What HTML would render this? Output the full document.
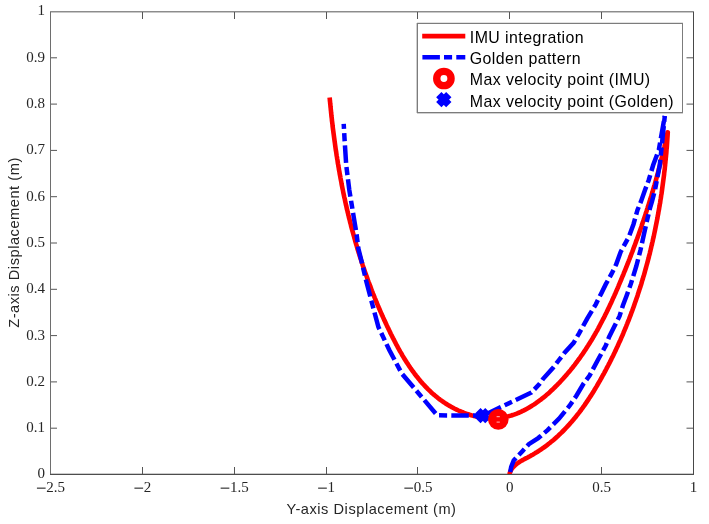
<!DOCTYPE html>
<html><head><meta charset="utf-8"><style>html,body{margin:0;padding:0;background:#fff;width:709px;height:524px;overflow:hidden}svg{display:block;will-change:transform}</style></head>
<body><svg width="709" height="524" viewBox="0 0 709 524"><rect width="709" height="524" fill="#fff"/><rect x="51" y="473" width="642" height="1" fill="#cccccc"/><rect x="51" y="12" width="642" height="1" fill="#c8c8c8"/><path d="M142.5 474V467M142.5 11V19M234.5 474V467M234.5 11V19M326.5 474V467M326.5 11V19M417.5 474V467M417.5 11V19M509.5 474V467M509.5 11V19M601.5 474V467M601.5 11V19M50 428.2H57M693 428.2H686.5M50 381.9H57M693 381.9H686.5M50 335.6H57M693 335.6H686.5M50 289.3H57M693 289.3H686.5M50 243.0H57M693 243.0H686.5M50 196.7H57M693 196.7H686.5M50 150.4H57M693 150.4H686.5M50 104.1H57M693 104.1H686.5M50 57.8H57M693 57.8H686.5" stroke="#555" stroke-width="1" fill="none"/><polyline points="509.4,474.4 509.8,472.9 510.3,471.6 511.0,470.2 511.7,469.0 512.5,467.9 513.5,466.8 514.5,465.8 515.5,464.8 516.7,463.9 517.9,463.0 519.1,462.2 520.4,461.4 521.7,460.6 523.1,459.9 524.4,459.1 525.8,458.4 527.2,457.7 528.6,456.9 530.0,456.2 531.3,455.4 532.7,454.7 534.0,453.9 535.3,453.1 536.7,452.3 538.0,451.5 539.2,450.6 540.5,449.8 541.8,448.9 543.0,448.0 544.3,447.2 545.5,446.3 546.7,445.4 547.9,444.4 549.1,443.5 550.3,442.6 551.5,441.6 552.6,440.7 553.8,439.7 554.9,438.7 556.0,437.7 557.1,436.7 558.3,435.7 559.3,434.7 560.4,433.6 561.5,432.6 562.6,431.5 563.6,430.5 564.7,429.4 565.7,428.3 566.7,427.2 567.7,426.1 568.8,425.0 569.8,423.9 570.7,422.8 571.7,421.7 572.7,420.5 573.7,419.4 574.6,418.2 575.6,417.1 576.5,415.9 577.4,414.7 578.3,413.6 579.3,412.4 580.2,411.2 581.1,410.0 581.9,408.8 582.8,407.6 583.7,406.3 584.6,405.1 585.4,403.9 586.3,402.6 587.1,401.4 588.0,400.1 588.8,398.9 589.6,397.6 590.4,396.4 591.3,395.1 592.1,393.8 592.9,392.6 593.7,391.3 594.4,390.0 595.2,388.7 596.0,387.4 596.8,386.1 597.5,384.8 598.3,383.5 599.0,382.2 599.8,380.9 600.5,379.6 601.3,378.3 602.0,376.9 602.7,375.6 603.5,374.3 604.2,373.0 604.9,371.6 605.6,370.3 606.3,369.0 607.0,367.6 607.7,366.3 608.4,365.0 609.1,363.6 609.8,362.3 610.5,360.9 611.2,359.6 611.8,358.2 612.5,356.9 613.2,355.5 613.8,354.2 614.5,352.8 615.1,351.5 615.8,350.1 616.4,348.7 617.0,347.4 617.7,346.0 618.3,344.6 618.9,343.2 619.5,341.9 620.2,340.5 620.8,339.1 621.4,337.7 622.0,336.3 622.6,335.0 623.2,333.6 623.7,332.2 624.3,330.8 624.9,329.4 625.5,328.0 626.1,326.6 626.6,325.2 627.2,323.8 627.7,322.4 628.3,321.0 628.9,319.6 629.4,318.2 629.9,316.8 630.5,315.4 631.0,314.0 631.5,312.5 632.1,311.1 632.6,309.7 633.1,308.3 633.6,306.9 634.1,305.4 634.6,304.0 635.1,302.6 635.6,301.2 636.1,299.7 636.6,298.3 637.1,296.9 637.6,295.4 638.0,294.0 638.5,292.6 639.0,291.1 639.4,289.7 639.9,288.3 640.4,286.8 640.8,285.4 641.3,283.9 641.7,282.5 642.1,281.0 642.6,279.6 643.0,278.1 643.4,276.7 643.9,275.2 644.3,273.8 644.7,272.3 645.1,270.9 645.5,269.4 645.9,268.0 646.3,266.5 646.7,265.0 647.1,263.6 647.5,262.1 647.9,260.6 648.3,259.2 648.7,257.7 649.0,256.2 649.4,254.8 649.8,253.3 650.1,251.8 650.5,250.4 650.8,248.9 651.2,247.4 651.5,245.9 651.9,244.5 652.2,243.0 652.6,241.5 652.9,240.0 653.2,238.6 653.6,237.1 653.9,235.6 654.2,234.1 654.5,232.6 654.8,231.2 655.1,229.7 655.4,228.2 655.7,226.7 656.0,225.2 656.3,223.7 656.6,222.2 656.9,220.8 657.2,219.3 657.5,217.8 657.7,216.3 658.0,214.8 658.3,213.3 658.5,211.8 658.8,210.3 659.1,208.8 659.3,207.3 659.6,205.8 659.8,204.3 660.1,202.9 660.3,201.4 660.5,199.9 660.8,198.4 661.0,196.9 661.2,195.4 661.5,193.9 661.7,192.4 661.9,190.9 662.1,189.4 662.3,187.9 662.5,186.4 662.7,184.9 662.9,183.4 663.1,181.9 663.3,180.4 663.5,178.9 663.7,177.4 663.9,175.9 664.1,174.4 664.2,172.9 664.4,171.4 664.6,169.9 664.8,168.4 664.9,166.9 665.1,165.4 665.2,163.9 665.4,162.4 665.5,160.9 665.7,159.4 665.8,157.9 666.0,156.4 666.1,154.9 666.3,153.4 666.4,151.9 666.5,150.4 666.6,148.9 666.8,147.4 666.9,145.9 667.0,144.4 667.1,142.9 667.2,141.4 667.3,139.9 667.4,138.4 667.5,136.9 667.6,135.4 667.7,133.9 667.8,132.4 667.6,132.3 667.3,133.8 667.0,135.2 666.7,136.7 666.4,138.2 666.0,139.6 665.7,141.1 665.4,142.6 665.1,144.1 664.7,145.5 664.4,147.0 664.0,148.5 663.7,149.9 663.3,151.4 663.0,152.9 662.6,154.3 662.3,155.8 661.9,157.2 661.6,158.7 661.2,160.2 660.8,161.6 660.5,163.1 660.1,164.5 659.7,166.0 659.3,167.5 658.9,168.9 658.6,170.4 658.2,171.8 657.8,173.3 657.4,174.7 657.0,176.2 656.6,177.6 656.2,179.1 655.8,180.5 655.4,182.0 655.0,183.4 654.6,184.9 654.1,186.3 653.7,187.8 653.3,189.2 652.9,190.6 652.5,192.1 652.0,193.5 651.6,195.0 651.2,196.4 650.7,197.8 650.3,199.3 649.8,200.7 649.4,202.1 649.0,203.6 648.5,205.0 648.0,206.4 647.6,207.9 647.1,209.3 646.7,210.7 646.2,212.2 645.8,213.6 645.3,215.0 644.8,216.4 644.3,217.9 643.9,219.3 643.4,220.7 642.9,222.1 642.4,223.6 641.9,225.0 641.5,226.4 641.0,227.8 640.5,229.2 640.0,230.7 639.5,232.1 639.0,233.5 638.5,234.9 638.0,236.3 637.5,237.7 637.0,239.1 636.4,240.5 635.9,242.0 635.4,243.4 634.9,244.8 634.4,246.2 633.8,247.6 633.3,249.0 632.8,250.4 632.3,251.8 631.7,253.2 631.2,254.6 630.7,256.0 630.1,257.4 629.6,258.8 629.0,260.2 628.5,261.6 627.9,263.0 627.4,264.4 626.8,265.8 626.3,267.2 625.7,268.6 625.2,270.0 624.6,271.3 624.0,272.7 623.5,274.1 622.9,275.5 622.3,276.9 621.7,278.3 621.2,279.7 620.6,281.0 620.0,282.4 619.4,283.8 618.8,285.2 618.3,286.6 617.7,288.0 617.1,289.3 616.5,290.7 615.9,292.1 615.3,293.5 614.7,294.8 614.1,296.2 613.4,297.6 612.8,298.9 612.2,300.3 611.6,301.7 611.0,303.0 610.3,304.4 609.7,305.7 609.1,307.1 608.4,308.4 607.8,309.8 607.1,311.1 606.5,312.5 605.8,313.8 605.1,315.2 604.5,316.5 603.8,317.9 603.1,319.2 602.4,320.5 601.7,321.8 601.0,323.2 600.3,324.5 599.6,325.8 598.9,327.1 598.2,328.5 597.5,329.8 596.8,331.1 596.0,332.4 595.3,333.7 594.5,335.0 593.8,336.3 593.0,337.6 592.3,338.9 591.5,340.2 590.7,341.4 589.9,342.7 589.1,344.0 588.3,345.3 587.5,346.5 586.7,347.8 585.9,349.1 585.0,350.3 584.2,351.6 583.4,352.8 582.5,354.1 581.6,355.3 580.8,356.5 579.9,357.8 579.0,359.0 578.1,360.2 577.2,361.5 576.3,362.7 575.4,363.9 574.5,365.1 573.5,366.3 572.6,367.5 571.6,368.7 570.7,369.9 569.7,371.1 568.7,372.2 567.7,373.4 566.7,374.6 565.7,375.7 564.7,376.9 563.7,378.0 562.6,379.2 561.6,380.3 560.5,381.5 559.5,382.6 558.4,383.7 557.3,384.8 556.2,385.9 555.1,387.0 554.0,388.1 552.9,389.2 551.7,390.3 550.6,391.3 549.5,392.4 548.3,393.4 547.1,394.4 546.0,395.4 544.8,396.4 543.6,397.4 542.4,398.3 541.2,399.3 540.0,400.2 538.7,401.1 537.5,402.0 536.3,402.9 535.0,403.8 533.8,404.6 532.5,405.4 531.2,406.2 529.9,407.0 528.7,407.8 527.4,408.5 526.1,409.2 524.8,409.9 523.4,410.6 522.1,411.2 520.8,411.9 519.5,412.5 518.1,413.0 516.8,413.6 515.4,414.1 514.0,414.6 512.7,415.0 511.3,415.5 509.9,415.9 508.5,416.3 507.1,416.6 505.7,416.9 504.3,417.2 502.9,417.5 501.5,417.7 500.1,417.9 498.7,418.1 497.2,418.2 495.8,418.3 494.3,418.4 492.9,418.4 491.4,418.4 490.0,418.3 488.5,418.3 487.1,418.2 485.6,418.0 484.2,417.9 482.7,417.7 481.2,417.5 479.8,417.2 478.3,417.0 476.9,416.7 475.4,416.3 474.0,416.0 472.5,415.6 471.1,415.2 469.7,414.8 468.2,414.3 466.8,413.8 465.4,413.3 464.0,412.8 462.6,412.2 461.2,411.7 459.8,411.1 458.4,410.5 457.0,409.8 455.7,409.2 454.3,408.5 453.0,407.8 451.6,407.1 450.3,406.3 449.0,405.6 447.7,404.8 446.5,404.0 445.2,403.2 443.9,402.3 442.7,401.5 441.5,400.6 440.3,399.8 439.1,398.9 437.9,397.9 436.8,397.0 435.6,396.1 434.5,395.1 433.4,394.2 432.2,393.2 431.1,392.2 430.1,391.2 429.0,390.1 427.9,389.1 426.9,388.0 425.8,387.0 424.8,385.9 423.8,384.8 422.8,383.7 421.8,382.6 420.8,381.5 419.9,380.3 418.9,379.2 418.0,378.0 417.0,376.8 416.1,375.7 415.2,374.5 414.3,373.3 413.4,372.0 412.5,370.8 411.6,369.6 410.7,368.4 409.9,367.1 409.0,365.9 408.2,364.6 407.4,363.3 406.5,362.1 405.7,360.8 404.9,359.5 404.1,358.2 403.3,356.9 402.5,355.6 401.8,354.2 401.0,352.9 400.2,351.6 399.5,350.3 398.7,348.9 398.0,347.6 397.3,346.2 396.5,344.9 395.8,343.5 395.1,342.2 394.4,340.8 393.7,339.4 393.0,338.1 392.3,336.7 391.6,335.3 390.9,334.0 390.2,332.6 389.6,331.2 388.9,329.8 388.2,328.4 387.6,327.1 386.9,325.7 386.3,324.3 385.6,322.9 385.0,321.5 384.3,320.1 383.7,318.7 383.1,317.4 382.5,316.0 381.8,314.6 381.2,313.2 380.6,311.8 380.0,310.4 379.4,309.0 378.8,307.6 378.2,306.2 377.6,304.8 377.0,303.4 376.4,302.0 375.9,300.6 375.3,299.2 374.7,297.8 374.2,296.4 373.6,295.0 373.0,293.6 372.5,292.2 371.9,290.8 371.4,289.4 370.9,287.9 370.3,286.5 369.8,285.1 369.3,283.7 368.7,282.3 368.2,280.9 367.7,279.5 367.2,278.0 366.7,276.6 366.2,275.2 365.7,273.8 365.2,272.4 364.7,270.9 364.2,269.5 363.7,268.1 363.2,266.7 362.7,265.2 362.3,263.8 361.8,262.4 361.3,261.0 360.9,259.5 360.4,258.1 360.0,256.7 359.5,255.2 359.1,253.8 358.6,252.4 358.2,250.9 357.7,249.5 357.3,248.1 356.9,246.6 356.5,245.2 356.0,243.7 355.6,242.3 355.2,240.9 354.8,239.4 354.4,238.0 354.0,236.5 353.6,235.1 353.2,233.7 352.8,232.2 352.4,230.8 352.0,229.3 351.6,227.9 351.2,226.4 350.9,225.0 350.5,223.5 350.1,222.1 349.8,220.6 349.4,219.2 349.0,217.7 348.7,216.2 348.3,214.8 348.0,213.3 347.6,211.9 347.3,210.4 346.9,209.0 346.6,207.5 346.3,206.0 345.9,204.6 345.6,203.1 345.3,201.7 345.0,200.2 344.7,198.7 344.3,197.3 344.0,195.8 343.7,194.3 343.4,192.9 343.1,191.4 342.8,189.9 342.5,188.5 342.2,187.0 341.9,185.5 341.6,184.0 341.4,182.6 341.1,181.1 340.8,179.6 340.5,178.1 340.3,176.7 340.0,175.2 339.7,173.7 339.5,172.2 339.2,170.8 338.9,169.3 338.7,167.8 338.4,166.3 338.2,164.8 337.9,163.4 337.7,161.9 337.5,160.4 337.2,158.9 337.0,157.4 336.7,155.9 336.5,154.5 336.3,153.0 336.1,151.5 335.8,150.0 335.6,148.5 335.4,147.0 335.2,145.5 335.0,144.0 334.8,142.5 334.6,141.1 334.4,139.6 334.2,138.1 334.0,136.6 333.8,135.1 333.6,133.6 333.4,132.1 333.2,130.6 333.0,129.1 332.8,127.6 332.6,126.1 332.5,124.6 332.3,123.1 332.1,121.6 331.9,120.1 331.8,118.6 331.6,117.1 331.4,115.6 331.3,114.1 331.1,112.6 331.0,111.1 330.8,109.6 330.7,108.1 330.5,106.6 330.4,105.1 330.2,103.6 330.1,102.1 329.9,100.6 329.8,99.1 329.6,97.5" fill="none" stroke="#ff0000" stroke-width="4.6" stroke-linejoin="round"/><polyline points="510.2,472.0 511.2,466.8 513.7,460.5 516.5,457.5 522.4,451.2 528.8,444.2 538.2,438.1 541.0,435.8 547.6,430.1 559.1,418.6 569.6,405.7 576.1,396.2 583.6,383.6 589.6,375.6 597.2,361.2 605.8,345.5 609.1,337.0 614.3,326.5 619.6,316.0 622.9,305.5 626.5,296.0 631.0,283.4 636.3,266.2 640.5,250.0 644.0,234.0 647.5,218.5 650.3,207.0 652.0,201.4 655.0,190.0 659.8,165.0 664.8,116.0" fill="none" stroke="#0000ff" stroke-width="4.5" stroke-dasharray="17.5 4.2 8.1 4.2" stroke-dashoffset="2.1" stroke-linejoin="miter"/><polyline points="664.8,116.0 658.8,150.0 653.2,165.0 648.6,180.5 645.0,190.0 641.0,201.4 637.5,210.0 633.5,224.2 629.0,236.5 620.7,251.8 616.2,264.3 611.5,273.9 605.7,284.4 601.0,293.9 595.8,304.3 587.2,318.6 579.1,333.4 573.6,342.9 564.8,352.4 558.6,360.5 552.4,368.6 542.9,379.1 539.6,383.8 531.5,392.5 483.0,415.7 437.2,415.3 401.8,373.5 389.3,350.0 378.4,327.0 372.5,305.0 366.2,281.0 361.8,262.2 358.3,248.4 356.7,235.0 353.4,215.0 349.3,190.0 346.2,165.0 344.6,140.0 343.7,123.9" fill="none" stroke="#0000ff" stroke-width="4.5" stroke-dasharray="17.5 4.2 8.1 4.2" stroke-dashoffset="28.7" stroke-linejoin="miter"/><path d="M477.9 410.7L487.9 420.7M487.9 410.7L477.9 420.7" stroke="#0000ff" stroke-width="7.5" fill="none"/><circle cx="498.3" cy="419.4" r="10.3" fill="#ff0000"/><path d="M496.6 416.7h3.2M496.6 422.1h3.2" stroke="#fff" stroke-width="0.9" opacity="0.8"/><rect x="50" y="11" width="1" height="464" fill="#6e6e6e"/><rect x="693" y="11" width="1" height="464" fill="#484848"/><rect x="50" y="11" width="644" height="1" fill="#8c8c8c"/><rect x="50" y="474" width="644" height="1" fill="#4d4d4d"/><rect x="416" y="22" width="268" height="92" fill="#fff"/><rect x="416" y="23" width="1" height="90" fill="#cfcfcf"/><rect x="417" y="22" width="266" height="1" fill="#e2e2e2"/><rect x="417" y="113" width="266" height="1" fill="#d0d0d0"/><rect x="417.5" y="23.5" width="265" height="89" fill="none" stroke="#7c7c7c" stroke-width="1"/><line x1="422.2" y1="36.2" x2="465.3" y2="36.2" stroke="#ff0000" stroke-width="4.8"/><line x1="422.4" y1="57.25" x2="465.3" y2="57.25" stroke="#0000ff" stroke-width="4.5" stroke-dasharray="17.5 4.1 8.1 4.2"/><circle cx="443.9" cy="78.5" r="7.15" fill="none" stroke="#ff0000" stroke-width="7.4"/><path d="M438.8 94.7L448.8 104.7M448.8 94.7L438.8 104.7" stroke="#0000ff" stroke-width="7.5" fill="none"/><text x="469.8" y="43.0" style="font-family:&quot;Liberation Sans&quot;,sans-serif;font-size:15.9px;letter-spacing:0.43px" fill="#000">IMU integration</text><text x="469.8" y="64.2" style="font-family:&quot;Liberation Sans&quot;,sans-serif;font-size:15.9px;letter-spacing:0.43px" fill="#000">Golden pattern</text><text x="469.8" y="85.4" style="font-family:&quot;Liberation Sans&quot;,sans-serif;font-size:15.9px;letter-spacing:0.43px" fill="#000">Max velocity point (IMU)</text><text x="469.8" y="106.6" style="font-family:&quot;Liberation Sans&quot;,sans-serif;font-size:15.9px;letter-spacing:0.43px" fill="#000">Max velocity point (Golden)</text><rect x="36.92" y="487.60" width="8.7" height="1.1" fill="#262626"/><text x="46.33" y="491.5" style="font-family:&quot;Liberation Serif&quot;,serif;font-size:15px" fill="#262626">2.5</text><rect x="134.41" y="487.60" width="8.7" height="1.1" fill="#262626"/><text x="143.81" y="491.5" style="font-family:&quot;Liberation Serif&quot;,serif;font-size:15px" fill="#262626">2</text><rect x="220.64" y="487.60" width="8.7" height="1.1" fill="#262626"/><text x="230.04" y="491.5" style="font-family:&quot;Liberation Serif&quot;,serif;font-size:15px" fill="#262626">1.5</text><rect x="318.12" y="487.60" width="8.7" height="1.1" fill="#262626"/><text x="327.52" y="491.5" style="font-family:&quot;Liberation Serif&quot;,serif;font-size:15px" fill="#262626">1</text><rect x="404.35" y="487.60" width="8.7" height="1.1" fill="#262626"/><text x="413.75" y="491.5" style="font-family:&quot;Liberation Serif&quot;,serif;font-size:15px" fill="#262626">0.5</text><text x="509.8" y="491.5" text-anchor="middle" style="font-family:&quot;Liberation Serif&quot;,serif;font-size:15px" fill="#262626">0</text><text x="601.6" y="491.5" text-anchor="middle" style="font-family:&quot;Liberation Serif&quot;,serif;font-size:15px" fill="#262626">0.5</text><text x="693.5" y="491.5" text-anchor="middle" style="font-family:&quot;Liberation Serif&quot;,serif;font-size:15px" fill="#262626">1</text><text x="44.9" y="478" text-anchor="end" style="font-family:&quot;Liberation Serif&quot;,serif;font-size:15px" fill="#262626">0</text><text x="44.9" y="432" text-anchor="end" style="font-family:&quot;Liberation Serif&quot;,serif;font-size:15px" fill="#262626">0.1</text><text x="44.9" y="386" text-anchor="end" style="font-family:&quot;Liberation Serif&quot;,serif;font-size:15px" fill="#262626">0.2</text><text x="44.9" y="340" text-anchor="end" style="font-family:&quot;Liberation Serif&quot;,serif;font-size:15px" fill="#262626">0.3</text><text x="44.9" y="293" text-anchor="end" style="font-family:&quot;Liberation Serif&quot;,serif;font-size:15px" fill="#262626">0.4</text><text x="44.9" y="247" text-anchor="end" style="font-family:&quot;Liberation Serif&quot;,serif;font-size:15px" fill="#262626">0.5</text><text x="44.9" y="201" text-anchor="end" style="font-family:&quot;Liberation Serif&quot;,serif;font-size:15px" fill="#262626">0.6</text><text x="44.9" y="154" text-anchor="end" style="font-family:&quot;Liberation Serif&quot;,serif;font-size:15px" fill="#262626">0.7</text><text x="44.9" y="108" text-anchor="end" style="font-family:&quot;Liberation Serif&quot;,serif;font-size:15px" fill="#262626">0.8</text><text x="44.9" y="62" text-anchor="end" style="font-family:&quot;Liberation Serif&quot;,serif;font-size:15px" fill="#262626">0.9</text><text x="44.9" y="15" text-anchor="end" style="font-family:&quot;Liberation Serif&quot;,serif;font-size:15px" fill="#262626">1</text><text x="371.5" y="514.3" text-anchor="middle" style="font-family:&quot;Liberation Sans&quot;,sans-serif;font-size:14.6px;letter-spacing:0.54px" fill="#262626">Y-axis Displacement (m)</text><text transform="translate(19.1 242.5) rotate(-90)" text-anchor="middle" style="font-family:&quot;Liberation Sans&quot;,sans-serif;font-size:14.6px;letter-spacing:0.54px" fill="#262626">Z-axis Displacement (m)</text></svg></body></html>
